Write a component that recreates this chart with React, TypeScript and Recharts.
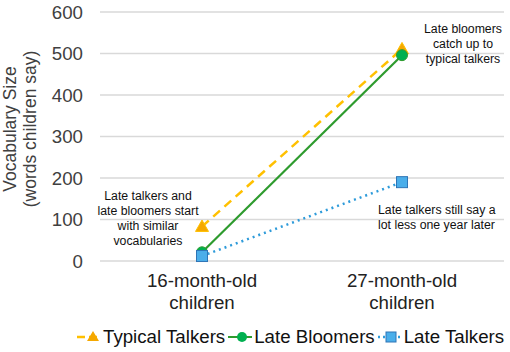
import React from 'react';
import { LineChart, Line, XAxis, YAxis, CartesianGrid, Legend } from 'recharts';

const categories = ['16-month-old children', '27-month-old children'];
const typicalTalkers = [83, 511];
const lateBloomers = [21, 496];
const lateTalkers = [12, 190];
const yTicks = [0, 100, 200, 300, 400, 500, 600];

const data = categories.map((c, i) => ({
  name: c,
  typical: typicalTalkers[i],
  bloomers: lateBloomers[i],
  talkers: lateTalkers[i],
}));

const FONT = '"Liberation Sans", Arial, sans-serif';
const ORANGE = '#FFC000';
const ORANGE_M = '#F5A800';
const GREEN = '#2E9B2E';
const GREEN_M = '#00B050';
const BLUE = '#2E9BDA';
const BLUE_M = '#4AAEEA';

const Triangle = (props: any) => {
  const { cx, cy } = props;
  if (cx == null || cy == null) return null;
  const s = 6.5;
  return <polygon points={`${cx},${cy - s} ${cx + s},${cy + s * 0.75} ${cx - s},${cy + s * 0.75}`} fill={ORANGE_M} stroke={ORANGE} strokeWidth={1} />;
};
const Circle = (props: any) => {
  const { cx, cy } = props;
  if (cx == null || cy == null) return null;
  return <circle cx={cx} cy={cy} r={5.5} fill={GREEN_M} stroke={GREEN} strokeWidth={1} />;
};
const Square = (props: any) => {
  const { cx, cy } = props;
  if (cx == null || cy == null) return null;
  return <rect x={cx - 5.5} y={cy - 5.5} width={11} height={11} fill={BLUE_M} stroke="#2E75B6" strokeWidth={1} />;
};

const XTick = (props: any) => {
  const { x, y, payload } = props;
  const words = String(payload.value).split(' ');
  return (
    <text x={x} y={y} textAnchor="middle" fontFamily={FONT} fontSize={18.7} fill="#222">
      <tspan x={x} dy={18}>{words[0]}</tspan>
      <tspan x={x} dy={22}>{words.slice(1).join(' ')}</tspan>
    </text>
  );
};

const YLabel = () => {
  const cy = 129;
  return (
    <g>
      <text x={0} y={0} transform={`translate(16, ${cy}) rotate(-90)`} textAnchor="middle" fontFamily={FONT} fontSize={17.5} fill="#404040">Vocabulary Size</text>
      <text x={0} y={0} transform={`translate(36, ${cy}) rotate(-90)`} textAnchor="middle" fontFamily={FONT} fontSize={17.5} fill="#404040">(words children say)</text>
    </g>
  );
};

const LegendContent = () => {
  const item = (icon: React.ReactNode, label: string, mr: number) => (
    <div style={{ display: 'flex', alignItems: 'center', marginRight: mr }}>
      <svg width={24} height={16} style={{ marginRight: 2 }}>{icon}</svg>
      <span style={{ fontFamily: FONT, fontSize: 18.7, color: '#111', whiteSpace: 'nowrap' }}>{label}</span>
    </div>
  );
  return (
    <div style={{ display: 'flex', justifyContent: 'flex-start', alignItems: 'center', height: 31, paddingLeft: 77 }}>
      {item(<g><line x1={0} y1={8} x2={24} y2={8} stroke={ORANGE} strokeWidth={2.5} strokeDasharray="8 4" /><polygon points="16,2 22,12 10,12" fill={ORANGE_M} /></g>, 'Typical Talkers', 3)}
      {item(<g><line x1={0} y1={8} x2={24} y2={8} stroke={GREEN} strokeWidth={2} /><circle cx={14} cy={8} r={5} fill={GREEN_M} /></g>, 'Late Bloomers', 3)}
      {item(<g><line x1={0} y1={8} x2={24} y2={8} stroke={BLUE} strokeWidth={2.5} strokeDasharray="2 3" /><rect x={8} y={3} width={10} height={10} fill={BLUE_M} stroke="#2E75B6" /></g>, 'Late Talkers', 0)}
    </div>
  );
};

const note: React.CSSProperties = { position: 'absolute', fontFamily: FONT, fontSize: 12.3, lineHeight: '15px', color: '#111', whiteSpace: 'nowrap' };

export default function App() {
  return (
    <div style={{ position: 'absolute', left: 0, top: 0, width: 510, height: 352, background: '#fff' }}>
      <LineChart width={510} height={352} data={data} margin={{ top: 12, right: 6, bottom: 0, left: 0 }}>
        <CartesianGrid vertical={false} stroke="#D9D9D9" strokeWidth={1.5} />
        <XAxis dataKey="name" axisLine={false} tickLine={false} height={60} tick={<XTick />} interval={0} padding={{ left: 102, right: 102 }} />
        <YAxis domain={[0, 600]} ticks={yTicks} width={100} axisLine={false} tickLine={false} tickMargin={11}
          tick={{ fontFamily: FONT, fontSize: 18.7, fill: '#404040' }} label={<YLabel />} />
        <Legend verticalAlign="bottom" height={31} content={<LegendContent />} />
        <Line dataKey="typical" stroke={ORANGE} strokeWidth={2.5} strokeDasharray="9 6" dot={<Triangle />} isAnimationActive={false} />
        <Line dataKey="bloomers" stroke={GREEN} strokeWidth={2.2} dot={<Circle />} isAnimationActive={false} />
        <Line dataKey="talkers" stroke={BLUE} strokeWidth={2.5} strokeDasharray="2 4" dot={<Square />} isAnimationActive={false} />
      </LineChart>
      <div style={{ ...note, left: 148, top: 189, transform: 'translateX(-50%)', textAlign: 'center' }}>
        Late talkers and<br />late bloomers start<br />with similar<br />vocabularies
      </div>
      <div style={{ ...note, left: 463, top: 22, transform: 'translateX(-50%)', textAlign: 'center' }}>
        Late bloomers<br />catch up to<br />typical talkers
      </div>
      <div style={{ ...note, left: 378, top: 203, textAlign: 'left' }}>
        Late talkers still say a<br />lot less one year later
      </div>
    </div>
  );
}
